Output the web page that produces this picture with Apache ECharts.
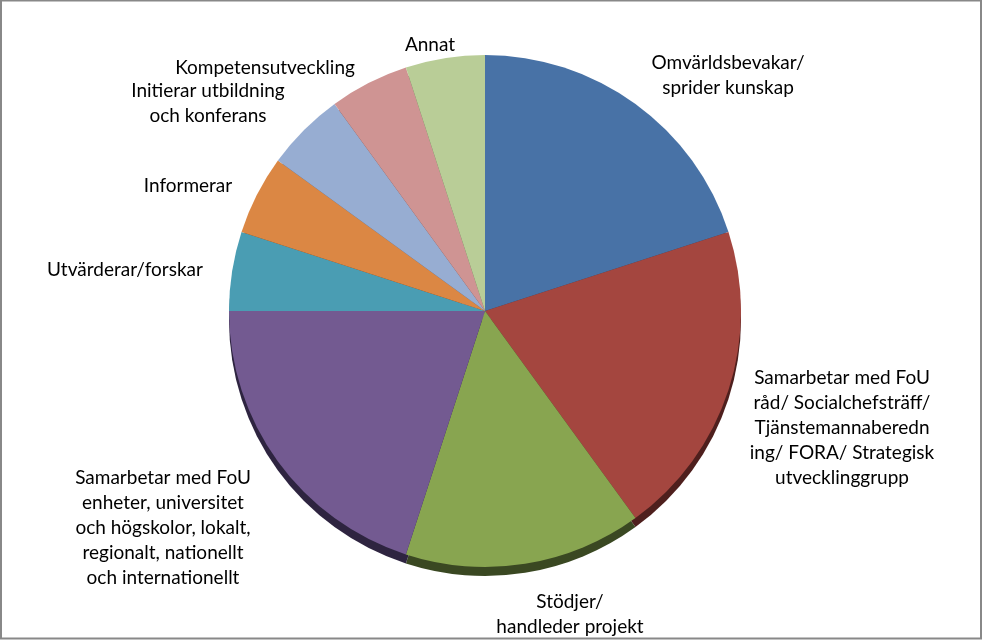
<!DOCTYPE html>
<html>
<head>
<meta charset="utf-8">
<script src="https://cdn.jsdelivr.net/npm/echarts@6/dist/echarts.min.js"></script>
<style>
html,body{margin:0;padding:0;background:#fff;}
#chart{width:983px;height:641px;}
</style>
</head>
<body>
<div id="chart"></div>
<script>
// Categories (label text as wrapped in the reference)
const categories = [
  "Omvärldsbevakar/\nsprider kunskap",
  "Samarbetar med FoU\nråd/ Socialchefsträff/\nTjänstemannaberedn\ning/ FORA/ Strategisk\nutvecklinggrupp",
  "Stödjer/\nhandleder projekt",
  "Samarbetar med FoU\nenheter, universitet\noch högskolor, lokalt,\nregionalt, nationellt\noch internationellt",
  "Utvärderar/forskar",
  "Informerar",
  "Initierar utbildning\noch konferans",
  "Kompetensutveckling",
  "Annat"
];
const values = [4, 4, 3, 4, 1, 1, 1, 1, 1];

// styles
const colors = ["#4872A6", "#A4463F", "#88A550", "#735A91", "#4A9DB3", "#DB8744", "#97ADD2", "#CF9493", "#B9CD97"];
const rimColors = ["#2A4466", "#4E1F1D", "#3A4822", "#2E2440", "#24505C", "#6E4020", "#4C5870", "#6A4646", "#5E6A4A"];
const labelAnchors = [
  [728, 75], [842, 428], [570, 614], [163, 528], [125, 270],
  [188, 186], [208, 103], [265, 68], [430, 45]
];

const chart = echarts.init(document.getElementById('chart'), null, {renderer: 'canvas'});
const CX = 485, CY = 311, R = 256;

const mainData = categories.map((c, i) => ({name: c, value: values[i], itemStyle: {color: colors[i]}}));
const rimData = categories.map((c, i) => ({name: c, value: values[i], itemStyle: {color: rimColors[i]}}));

chart.setOption({
  animation: false,
  backgroundColor: '#ffffff',
  graphic: [{
    type: 'rect',
    shape: {x: 1, y: 0.5, width: 980, height: 638},
    style: {fill: 'none', stroke: '#888888', lineWidth: 2},
    z: 100
  }],
  series: [
    {
      type: 'pie',
      silent: true,
      center: [CX, CY + 9],
      radius: R,
      startAngle: 90,
      clockwise: true,
      label: {show: false},
      labelLine: {show: false},
      data: rimData,
      z: 1
    },
    {
      type: 'pie',
      center: [CX, CY],
      radius: R,
      startAngle: 90,
      clockwise: true,
      itemStyle: {borderWidth: 0},
      label: {
        show: true,
        position: 'outside',
        fontFamily: 'Lato',
        fontSize: 19,
        lineHeight: 25,
        color: '#000000',
        align: 'center',
        formatter: p => p.name
      },
      labelLine: {show: false},
      labelLayout: function (params) {
        const a = labelAnchors[params.dataIndex];
        return {x: a[0], y: a[1], align: 'center', verticalAlign: 'middle', hideOverlap: false, moveOverlap: null};
      },
      data: mainData,
      z: 2
    }
  ]
});
</script>
</body>
</html>
